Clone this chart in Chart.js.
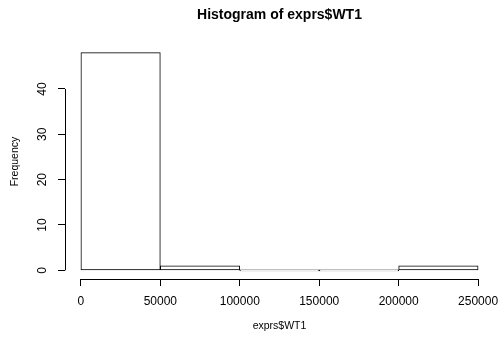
<!DOCTYPE html>
<html>
<head>
<meta charset="utf-8">
<script src="https://cdn.jsdelivr.net/npm/chart.js@4"></script>
<style>
  body { margin: 0; background: #fff; }
  #chart { display: block; }
</style>
</head>
<body>
<canvas id="chart" width="500" height="338"></canvas>
<script>
// histogram bins of exprs$WT1
const breaks = [0, 50000, 100000, 150000, 200000, 250000];
const counts = [48, 1, 0, 0, 1];
const xTicks = [0, 50000, 100000, 150000, 200000, 250000];
const yTicks = [0, 10, 20, 30, 40];

const mainTitle = "Histogram of exprs$WT1";
const xLabel = "exprs$WT1";
const yLabel = "Frequency";

const fontFamily = "'Liberation Sans', Arial, Helvetica, sans-serif";

const bins = counts.map(function (c, i) {
  return { x: (breaks[i] + breaks[i + 1]) / 2, y: c };
});

// R style axes: lines only between first and last tick, rotated y labels
const rAxes = {
  id: "rAxes",
  afterDraw(chart) {
    const ctx = chart.ctx;
    const area = chart.chartArea;
    const xs = chart.scales.x;
    const ys = chart.scales.y;
    ctx.save();
    ctx.strokeStyle = "#000";
    ctx.lineWidth = 1;
    ctx.beginPath();
    const yb = Math.round(area.bottom) + 0.5;
    ctx.moveTo(xs.getPixelForValue(xTicks[0]), yb);
    ctx.lineTo(xs.getPixelForValue(xTicks[xTicks.length - 1]), yb);
    const xl = Math.round(area.left) + 0.5;
    ctx.moveTo(xl, ys.getPixelForValue(yTicks[0]));
    ctx.lineTo(xl, ys.getPixelForValue(yTicks[yTicks.length - 1]));
    ctx.stroke();

    ctx.fillStyle = "#000";
    ctx.font = "12px " + fontFamily;
    ctx.textAlign = "center";
    ctx.textBaseline = "middle";
    xTicks.forEach(function (v) {
      ctx.fillText(String(v), xs.getPixelForValue(v), 302);
    });
    yTicks.forEach(function (v) {
      ctx.save();
      ctx.translate(43, ys.getPixelForValue(v));
      ctx.rotate(-Math.PI / 2);
      ctx.fillText(String(v), 0, 0);
      ctx.restore();
    });

    ctx.font = "10.5px " + fontFamily;
    ctx.fillText(xLabel, (area.left + area.right) / 2, 326);
    ctx.save();
    ctx.translate(15, (area.top + area.bottom) / 2);
    ctx.rotate(-Math.PI / 2);
    ctx.fillText(yLabel, 0, 0);
    ctx.restore();

    ctx.font = "bold 14px " + fontFamily;
    ctx.fillText(mainTitle, (area.left + area.right) / 2, 15);
    ctx.restore();
  }
};

new Chart(document.getElementById("chart"), {
  type: "bar",
  data: {
    datasets: [{
      data: bins,
      backgroundColor: "#fff",
      borderColor: "#000",
      borderWidth: 1,
      borderSkipped: false,
      barPercentage: 1,
      categoryPercentage: 1,
      minBarLength: 1
    }]
  },
  options: {
    responsive: false,
    animation: false,
    layout: { padding: { top: 44, right: 6, left: 0, bottom: 0 } },
    plugins: {
      legend: { display: false },
      tooltip: { enabled: false },
      title: { display: false }
    },
    scales: {
      x: {
        type: "linear",
        offset: false,
        min: -10000,
        max: 260000,
        afterBuildTicks: function (scale) {
          scale.ticks = xTicks.map(function (v) { return { value: v }; });
        },
        afterFit: function (scale) { scale.height = 59; },
        grid: { drawOnChartArea: false, drawTicks: true, tickLength: 7, color: "#000", offset: false },
        border: { display: false },
        ticks: { display: false }
      },
      y: {
        min: -1.92,
        max: 49.92,
        afterBuildTicks: function (scale) {
          scale.ticks = yTicks.map(function (v) { return { value: v }; });
        },
        afterFit: function (scale) { scale.width = 65; },
        grid: { drawOnChartArea: false, drawTicks: true, tickLength: 7, color: "#000" },
        border: { display: false },
        ticks: { display: false }
      }
    }
  },
  plugins: [rAxes]
});
</script>
</body>
</html>
